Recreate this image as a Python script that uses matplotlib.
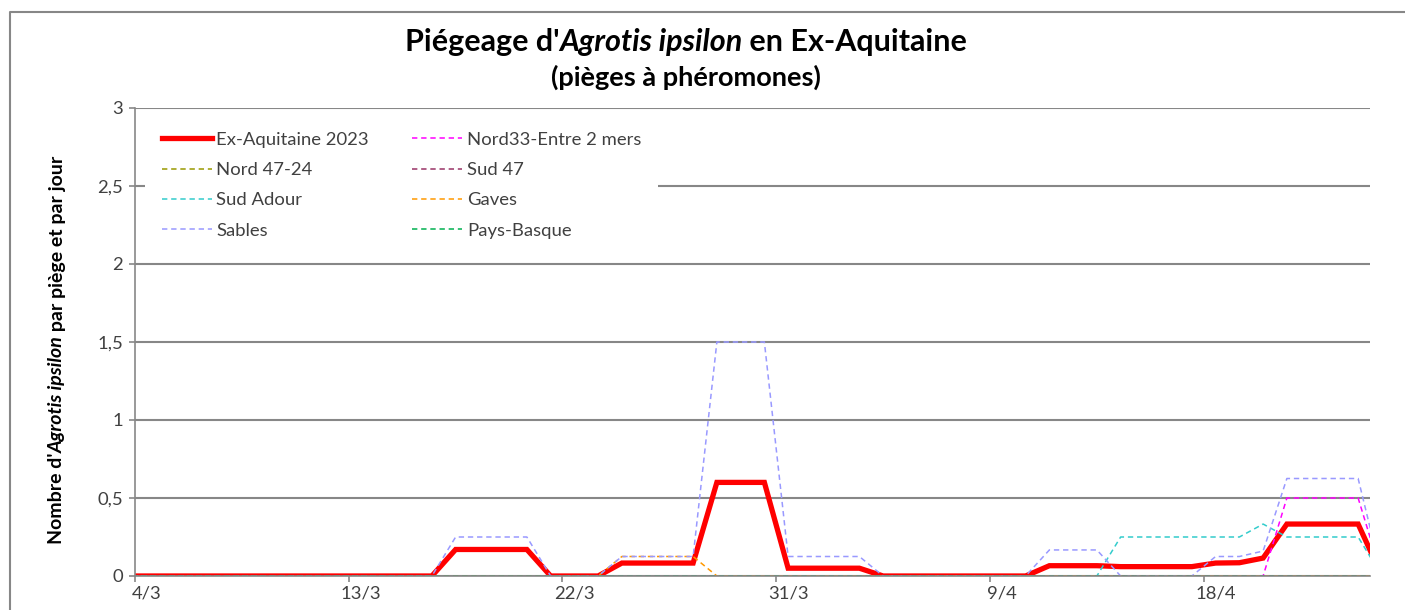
import matplotlib
matplotlib.use("Agg")
import matplotlib.pyplot as plt
from matplotlib.lines import Line2D
from matplotlib.transforms import IdentityTransform
from matplotlib.ticker import FuncFormatter
import pandas as pd

plt.rcParams['font.family'] = ['Lato', 'DejaVu Sans']

# ---- data (valeurs journalières, du 3/3 au 25/4) ----
dates = pd.date_range("2023-03-03", "2023-04-25", freq="D")

ex_aquitaine = [0, 0, 0, 0, 0, 0, 0, 0, 0, 0, 0, 0, 0, 0,
                0.17, 0.17, 0.17, 0.17, 0, 0, 0,
                0.083, 0.083, 0.083, 0.083, 0.6, 0.6, 0.6,
                0.05, 0.05, 0.05, 0.05, 0, 0, 0, 0, 0, 0, 0,
                0.066, 0.066, 0.066, 0.06, 0.06, 0.06, 0.06,
                0.083, 0.085, 0.115, 0.333, 0.333, 0.333, 0.333, 0]
sables = [0, 0, 0, 0, 0, 0, 0, 0, 0, 0, 0, 0, 0, 0,
          0.25, 0.25, 0.25, 0.25, 0, 0, 0,
          0.125, 0.125, 0.125, 0.125, 1.5, 1.5, 1.5,
          0.125, 0.125, 0.125, 0.125, 0, 0, 0, 0, 0, 0, 0,
          0.167, 0.167, 0.167, 0, 0, 0, 0,
          0.125, 0.125, 0.16, 0.625, 0.625, 0.625, 0.625, 0]
nord33 = [0, 0, 0, 0, 0, 0, 0, 0, 0, 0, 0, 0, 0, 0,
          0, 0, 0, 0, 0, 0, 0, 0, 0, 0, 0, 0, 0, 0,
          0, 0, 0, 0, 0, 0, 0, 0, 0, 0, 0, 0, 0, 0, 0, 0, 0, 0,
          0, 0, 0, 0.5, 0.5, 0.5, 0.5, 0]
sud_adour = [0, 0, 0, 0, 0, 0, 0, 0, 0, 0, 0, 0, 0, 0,
             0, 0, 0, 0, 0, 0, 0, 0, 0, 0, 0, 0, 0, 0,
             0, 0, 0, 0, 0, 0, 0, 0, 0, 0, 0, 0, 0, 0,
             0.25, 0.25, 0.25, 0.25, 0.25, 0.25,
             0.333, 0.25, 0.25, 0.25, 0.25, 0]
gaves = [0, 0, 0, 0, 0, 0, 0, 0, 0, 0, 0, 0, 0, 0,
         0, 0, 0, 0, 0, 0, 0,
         0.125, 0.125, 0.125, 0.125, 0, 0, 0,
         0, 0, 0, 0, 0, 0, 0, 0, 0, 0, 0, 0, 0, 0, 0, 0, 0, 0,
         0, 0, 0, 0, 0, 0, 0, 0]
nord4724 = [0] * len(dates)
sud47 = [0] * len(dates)
pays_basque = [0] * len(dates)

series = [
    ("Ex-Aquitaine 2023", ex_aquitaine, "#FF0000", "-", 3.8),
    ("Nord33-Entre 2 mers", nord33, "#FF00FF", "--", 1.1),
    ("Nord 47-24", nord4724, "#999900", "--", 1.1),
    ("Sud 47", sud47, "#993366", "--", 1.1),
    ("Sud Adour", sud_adour, "#33CCCC", "--", 1.1),
    ("Gaves", gaves, "#FF9900", "--", 1.1),
    ("Sables", sables, "#9999FF", "--", 1.1),
    ("Pays-Basque", pays_basque, "#00B050", "--", 1.1),
]
legend_order = ["Ex-Aquitaine 2023", "Nord 47-24", "Sud Adour", "Sables",
                "Nord33-Entre 2 mers", "Sud 47", "Gaves", "Pays-Basque"]

tick_dates = pd.date_range("2023-03-04", "2023-04-18", freq="9D")
y_ticks = [0, 0.5, 1, 1.5, 2, 2.5, 3]

# ---- figure ----
W, H = 1405, 610
GRAY = "#878787"
TXT = "#404040"
fig = plt.figure(figsize=(W / 100, H / 100), dpi=100)
ax = fig.add_axes([135 / W, (H - 576) / H, 1235 / W, 468 / H])

xpos = dates + pd.Timedelta(hours=12)  # point au milieu du jour
lines = {}
for name, vals, col, ls, lw in series:
    ln, = ax.plot(xpos, vals, color=col, ls=ls, lw=lw, label=name,
                  solid_joinstyle="miter", dash_capstyle="butt")
    if ls == "--":
        ln.set_dashes((3.5, 2.5))
    lines[name] = ln

ax.set_xlim(pd.Timestamp("2023-03-04"), pd.Timestamp("2023-04-25"))
ax.set_ylim(0, 3)
ax.set_yticks(y_ticks)
ax.yaxis.set_major_formatter(FuncFormatter(lambda v, p: f"{v:g}".replace(".", ",")))
ax.grid(axis="y", color=GRAY, lw=1.5)
ax.set_axisbelow(True)

ax.set_xticks(tick_dates)
ax.set_xticklabels([])
ax.set_xticks(tick_dates + pd.Timedelta(hours=12), minor=True)
ax.set_xticklabels([f"{d.day}/{d.month}" for d in tick_dates], minor=True)
ax.tick_params(axis="x", which="major", length=4.5, color=GRAY, width=1.2)
ax.tick_params(axis="x", which="minor", length=0, pad=7, labelsize=13.3, labelcolor=TXT)
ax.tick_params(axis="y", length=4.5, color=GRAY, width=1.2, pad=4, labelsize=13.3, labelcolor=TXT)

for s in ["top", "right"]:
    ax.spines[s].set_visible(False)
for s in ["left", "bottom"]:
    ax.spines[s].set_color(GRAY)
    ax.spines[s].set_linewidth(1.2)

leg = ax.legend([lines[n] for n in legend_order], legend_order, ncol=2,
                loc="upper left", bbox_to_anchor=(10 / 1235, (576 - 115) / 468),
                borderaxespad=0, fancybox=False, edgecolor="none", facecolor="white",
                framealpha=1, fontsize=13.3, handlelength=2.7, handletextpad=0.27,
                columnspacing=2.34, labelspacing=0.78, borderpad=0.9)
for t in leg.get_texts():
    t.set_color(TXT)


def rich(parts, cx, cy, size, rotation=0):
    # texte gras avec une partie en italique, centré sur (cx, cy) en pixels image
    r = fig.canvas.get_renderer()
    ts = [fig.text(0, 0, s, fontsize=size, fontweight="bold", fontstyle=st,
                   transform=IdentityTransform(), color="#000000") for s, st in parts]
    widths = [t.get_window_extent(r).width for t in ts]
    pos = -sum(widths) / 2
    for t, w in zip(ts, widths):
        if rotation == 0:
            t.set_ha("left"); t.set_va("baseline")
            t.set_position((cx + pos, H - cy))
        else:
            t.set_rotation(90); t.set_rotation_mode("anchor")
            t.set_ha("left"); t.set_va("center")
            t.set_position((cx, H - cy + pos))
        pos += w


rich([("Piégeage d'", "normal"), ("Agrotis ipsilon", "italic"), (" en Ex-Aquitaine", "normal")],
     686, 51, 22)
rich([("(pièges à phéromones)", "normal")], 686, 86, 19.5)
rich([("Nombre d'", "normal"), ("Agrotis ipsilon", "italic"),
      (" par piège et par jour", "normal")], 57, 350, 14, rotation=90)

# cadre du graphique
fig.add_artist(Line2D([10 / W, 10 / W, 1], [0, (H - 12) / H, (H - 12) / H],
                      transform=fig.transFigure, color=GRAY, lw=1.5))

fig.savefig("out.png", dpi=100)
